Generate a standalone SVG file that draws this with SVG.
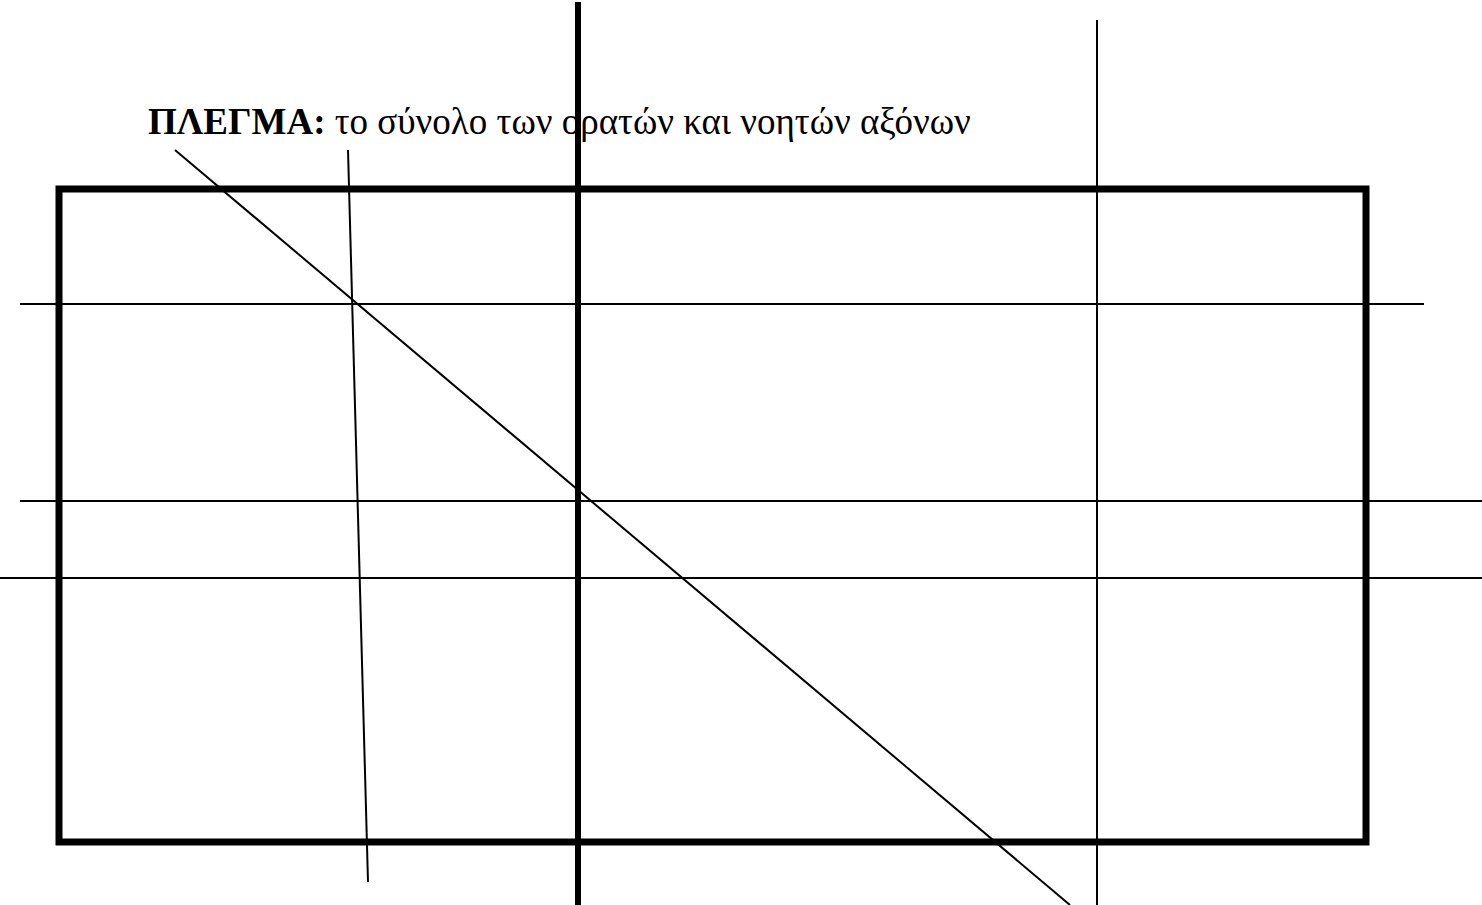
<svg xmlns="http://www.w3.org/2000/svg" width="1482" height="905" viewBox="0 0 1482 905">
<style>
.thin{stroke:#000;stroke-width:2;fill:none}
.thick{stroke:#000;stroke-width:6;fill:none}
.frame{stroke:#000;stroke-width:7;fill:none}
.lbl{font-family:"Liberation Serif","Times New Roman","DejaVu Serif",serif;font-size:37px;fill:#000}
</style>
<rect width="1482" height="905" fill="#fff"/>
<g id="frame">
<rect class="frame" x="59" y="189" width="1307" height="653"/>
</g>
<g id="connectors">
<line class="thick" x1="578" y1="2" x2="578" y2="905"/>
<line class="thin" x1="1097" y1="20" x2="1097" y2="905"/>
<line class="thin" x1="348" y1="150" x2="368" y2="882"/>
<line class="thin" x1="175" y1="150" x2="1070" y2="905"/>
<line class="thin" x1="20" y1="304" x2="1424" y2="304"/>
<line class="thin" x1="20" y1="501" x2="1482" y2="501"/>
<line class="thin" x1="0" y1="578" x2="1482" y2="578"/>
</g>
<g id="label">
<text class="lbl" x="148" y="134"><tspan font-weight="bold">ΠΛΕΓΜΑ:</tspan> το σύνολο των ορατών και νοητών αξόνων</text>
</g>
</svg>
